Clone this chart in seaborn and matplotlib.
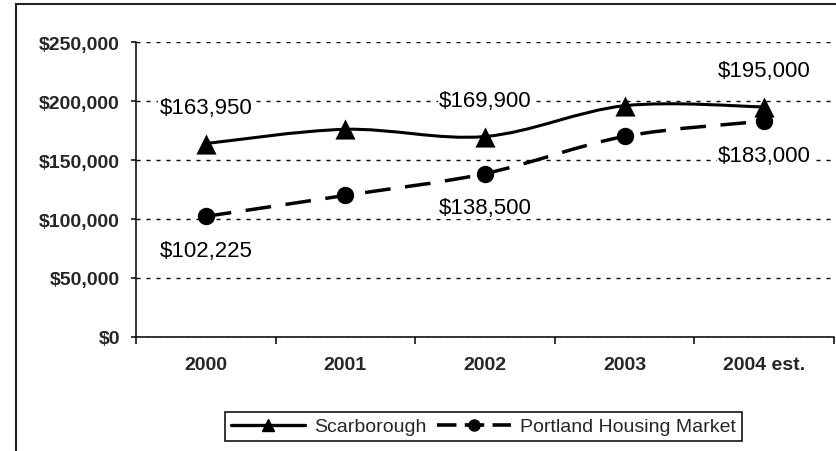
import numpy as np
import pandas as pd
import matplotlib
matplotlib.use("Agg")
import matplotlib.pyplot as plt
import seaborn as sns
from matplotlib.path import Path
from matplotlib.patches import PathPatch, Rectangle
from matplotlib.lines import Line2D
from matplotlib.ticker import FuncFormatter, MultipleLocator, FixedLocator

# ---- data -------------------------------------------------------------
years = ["2000", "2001", "2002", "2003", "2004 est."]
scarborough = [163950, 176000, 169900, 196000, 195000]
portland = [102225, 120000, 138500, 170000, 183000]
series_names = ["Scarborough", "Portland Housing Market"]
labelled_idx = [0, 2, 4]

# ---- style ------------------------------------------------------------
sns.set_theme(style="white")
plt.rcParams["font.family"] = ["Liberation Sans", "DejaVu Sans"]
plt.rcParams["lines.scale_dashes"] = False

W, H = 836, 452
fig = plt.figure(figsize=(W / 100, H / 100), dpi=100)
fig.patch.set_facecolor("white")

# plot area in pixel terms
left, right, top, bottom = 136, 834, 43, 338
ax = fig.add_axes([left / W, 1 - bottom / H, (right - left) / W, (bottom - top) / H])
ax.set_facecolor("white")

pos = np.arange(len(years))
df = pd.DataFrame({
    "pos": np.concatenate([pos, pos]),
    "value": scarborough + portland,
    "series": [series_names[0]] * len(years) + [series_names[1]] * len(years),
})


def smooth_path(xs, ys):
    """Cubic Bezier path through the points (Catmull-Rom style smoothing)."""
    pts = np.column_stack([xs, ys]).astype(float)
    n = len(pts)
    verts = [pts[0]]
    codes = [Path.MOVETO]
    for i in range(n - 1):
        p0 = pts[max(i - 1, 0)]
        p1 = pts[i]
        p2 = pts[i + 1]
        p3 = pts[min(i + 2, n - 1)]
        c1 = p1 + (p2 - p0) / 6.0
        c2 = p2 - (p3 - p1) / 6.0
        verts += [c1, c2, p2]
        codes += [Path.CURVE4] * 3
    return Path(verts, codes)


# smoothed connecting lines
ax.add_patch(PathPatch(smooth_path(pos, scarborough), fill=False,
                       edgecolor="black", linewidth=2.2, zorder=3,
                       capstyle="butt", joinstyle="round"))
ax.add_patch(PathPatch(smooth_path(pos, portland), fill=False,
                       edgecolor="black", linewidth=2.5, zorder=3,
                       linestyle=(0, (18.5, 10.5)), capstyle="butt"))

# markers
sub_s = df[df["series"] == series_names[0]]
sub_p = df[df["series"] == series_names[1]]
sns.scatterplot(data=sub_s, x="pos", y="value", marker="^", s=14.5 ** 2,
                color="black", edgecolor="black", linewidth=0, ax=ax,
                zorder=4, legend=False)
sns.scatterplot(data=sub_p, x="pos", y="value", marker="o", s=12.5 ** 2,
                color="black", edgecolor="black", linewidth=0, ax=ax,
                zorder=4, legend=False)

# value labels (white backing hides the gridlines behind the text)
label_box = dict(boxstyle="square,pad=0.05", facecolor="white",
                 edgecolor="none")
for i in labelled_idx:
    ax.annotate(f"${scarborough[i]:,}", (pos[i], scarborough[i]),
                xytext=(0, 26), textcoords="offset points",
                ha="center", va="center", fontsize=16, color="black",
                bbox=label_box, zorder=2)
    ax.annotate(f"${portland[i]:,}", (pos[i], portland[i]),
                xytext=(0, -24.5), textcoords="offset points",
                ha="center", va="center", fontsize=16, color="black",
                bbox=label_box, zorder=2)

# ---- axes -------------------------------------------------------------
ax.set_xlim(-0.5, len(years) - 0.5)
ax.set_ylim(0, 250000)
ax.set_xlabel("")
ax.set_ylabel("")

ax.yaxis.set_major_locator(MultipleLocator(50000))
ax.yaxis.set_major_formatter(FuncFormatter(lambda v, _: f"${v:,.0f}"))
ax.tick_params(axis="y", which="major", direction="out", length=3.6,
               width=1.1, color="black", pad=8, labelsize=14,
               left=True)
for t in ax.get_yticklabels():
    t.set_fontweight("bold")

# category boundaries carry tick marks, centers carry the labels
ax.xaxis.set_major_locator(FixedLocator(np.arange(-0.5, len(years), 1.0)))
ax.xaxis.set_major_formatter(FuncFormatter(lambda v, _: ""))
ax.set_xticks(pos, minor=True)
ax.set_xticklabels(years, minor=True, fontsize=14, fontweight="bold")
ax.tick_params(axis="x", which="major", direction="out", length=5,
               width=1.1, color="black", bottom=True)
ax.tick_params(axis="x", which="minor", length=0, pad=14, labelsize=14)

ax.grid(False)
ax.yaxis.grid(True, which="major", color="black", linewidth=1.0,
              linestyle=(0, (2.9, 4.3)), zorder=1)
ax.set_axisbelow(True)

sns.despine(ax=ax, top=True, right=True)
for side in ("left", "bottom"):
    ax.spines[side].set_color("black")
    ax.spines[side].set_linewidth(1.1)
ax.spines["bottom"].set_zorder(6)

# ---- legend -----------------------------------------------------------
handles = [
    Line2D([], [], color="black", linewidth=2.4, marker="^", markersize=8),
    Line2D([], [], color="black", linewidth=2.6, marker="o", markersize=8,
           linestyle=(0, (14, 6))),
]
leg = fig.legend(handles, series_names, loc="center",
                 bbox_to_anchor=(483.5 / W, 1 - 427.5 / H),
                 ncol=2, fontsize=14, frameon=True, fancybox=False,
                 framealpha=1, edgecolor="black", handlelength=3.8,
                 handletextpad=0.5, columnspacing=0.5, borderpad=0.3,
                 borderaxespad=0)
leg.get_frame().set_linewidth(1.1)

# outer chart frame
fig.add_artist(Rectangle((16 / W, -0.1), 1.2, 1 - 5 / H + 0.1,
                         transform=fig.transFigure, fill=False,
                         edgecolor="#222222", linewidth=1.5, clip_on=False))

fig.savefig("out.png", dpi=100, facecolor="white")
